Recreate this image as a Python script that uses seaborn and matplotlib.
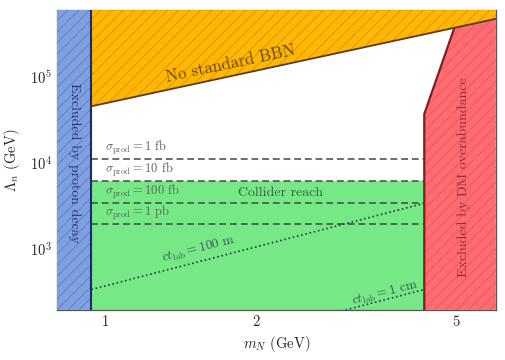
import matplotlib
matplotlib.use("Agg")
import matplotlib.pyplot as plt
import matplotlib.ticker as mticker
import seaborn as sns

# axis ranges (GeV)
m_lim = [0.8, 6.0]
lam_lim = [200, 6e5]

# proton decay bound: m_N below the proton mass
m_proton = 0.938

# lower edge of the "no standard BBN" band
bbn_m = [0.938, 6.0]
bbn_lam = [4.6e4, 4.75e5]

# left edge of the DM overabundance region
dm_m = [4.32, 4.32, 4.96, 5.1]
dm_lam = [200, 3.74e4, 3.74e5, 6e5]

# collider reach contours
sigma_names = ["1 fb", "10 fb", "100 fb", "1 pb"]
sigma_lam = [1.12e4, 6.3e3, 3.5e3, 1.97e3]
collider_top = 6.3e3

# decay length contours
ct_m = [0.938, 4.32]
ct_100m_lam = [345, 3450]
ct_1cm_lam = [34.5, 345]

sns.set_theme(style="ticks")
plt.rcParams.update({
    "font.family": "serif",
    "font.serif": ["cmr10"],
    "mathtext.fontset": "cm",
    "axes.formatter.use_mathtext": True,
    "hatch.linewidth": 0.45,
    "axes.edgecolor": "#555555",
    "axes.linewidth": 0.9,
})

fig = plt.figure(figsize=(5.06, 3.6), dpi=100)
ax = fig.add_axes([0.112, 0.139, 0.868, 0.833])
ax.set_xscale("log")
ax.set_yscale("log")

# collider reach
ax.fill_between([m_proton, dm_m[0]], lam_lim[0], collider_top,
                facecolor="#77e886", linewidth=0, zorder=1)

line_col = "#3e4c42"
for name, lam in zip(sigma_names, sigma_lam):
    sns.lineplot(x=[m_proton, dm_m[0]], y=[lam, lam], ax=ax, color=line_col,
                 linestyle=(0, (4.5, 2.5)), linewidth=1.1, zorder=2)
    num, unit = name.split()
    ax.text(1.0, lam * 1.06, r"$\sigma_{\rm prod} = %s$ %s" % (num, unit),
            fontsize=9, color="#56655a", ha="left", va="bottom", zorder=5)

dot_col = "#2a3550"
sns.lineplot(x=ct_m, y=ct_100m_lam, ax=ax, color=dot_col, linestyle=(0, (1, 1.6)),
             linewidth=1.2, zorder=2)
sns.lineplot(x=ct_m, y=ct_1cm_lam, ax=ax, color=dot_col, linestyle=(0, (1, 1.6)),
             linewidth=1.2, zorder=2)

# proton decay
ax.fill_between([m_lim[0], m_proton], lam_lim[0], lam_lim[1], facecolor="#7e9fe0",
                edgecolor="#5573bd", hatch="///", linewidth=0, zorder=3)
ax.plot([m_proton, m_proton], lam_lim, color="#1b2a6b", linewidth=1.5, zorder=4)

# DM overabundance
ax.fill(dm_m + [m_lim[1], m_lim[1]], dm_lam + [lam_lim[1], lam_lim[0]],
        facecolor="#ff6b70", edgecolor="#d0575b", hatch="///", linewidth=0, zorder=3)
ax.plot(dm_m, dm_lam, color="#8b1a1f", linewidth=1.6, zorder=3.2)

# BBN
ax.fill_between(bbn_m, bbn_lam, lam_lim[1], facecolor="#ffb703",
                edgecolor="#c08a10", hatch="///", linewidth=0, zorder=3.5)
ax.plot(bbn_m, bbn_lam, color="#5a3a1e", linewidth=1.3, zorder=4)

ax.set_xlim(m_lim)
ax.set_ylim(lam_lim)

# labels on the plot
ax.text(1.78, 1.45e5, "No standard BBN", rotation=12, fontsize=12,
        color="#6b4714", ha="center", va="center", zorder=5)
ax.text(0.868, 1.0e4, "Excluded by proton decay", rotation=-90, fontsize=10,
        color="#26367a", ha="center", va="center", zorder=5)
ax.text(5.17, 7.0e3, "Excluded by DM overabundance", rotation=90, fontsize=10,
        color="#9b2a30", ha="center", va="center", zorder=5)
ax.text(2.23, 4.6e3, "Collider reach", fontsize=10, color="#3e5a44",
        ha="center", va="center", zorder=5)
ax.text(1.535, 1000, r"$ct_{\rm lab} = 100$ m", rotation=14.5, fontsize=9.5,
        color="#3a4560", alpha=0.9, ha="center", va="center", zorder=5)
ax.text(3.6, 315, r"$ct_{\rm lab} = 1$ cm", rotation=14.5, fontsize=9.5,
        color="#3a4560", alpha=0.9, ha="center", va="center", zorder=5)

ax.set_xlabel(r"$m_N$ (GeV)", fontsize=10.5)
ax.set_ylabel(r"$\Lambda_n$ (GeV)", fontsize=10.5)
ax.yaxis.set_label_coords(-0.078, 0.5)

ax.xaxis.set_major_locator(mticker.FixedLocator([0.9, 1, 2, 3, 4, 5]))
ax.xaxis.set_major_formatter(mticker.FixedFormatter(["", "1", "2", "", "", "5"]))
ax.xaxis.set_minor_locator(mticker.NullLocator())
ax.yaxis.set_major_locator(mticker.LogLocator(base=10))
ax.yaxis.set_minor_locator(mticker.LogLocator(base=10, subs=range(2, 10)))
ax.yaxis.set_minor_formatter(mticker.NullFormatter())
ax.tick_params(which="both", direction="in", top=True, right=True,
               labelsize=10.5, color="#222222", width=0.7)
ax.tick_params(which="major", length=5)
ax.tick_params(which="minor", length=2.5)
ax.tick_params(axis="x", which="major", length=4)

fig.savefig("out.png", dpi=100)
